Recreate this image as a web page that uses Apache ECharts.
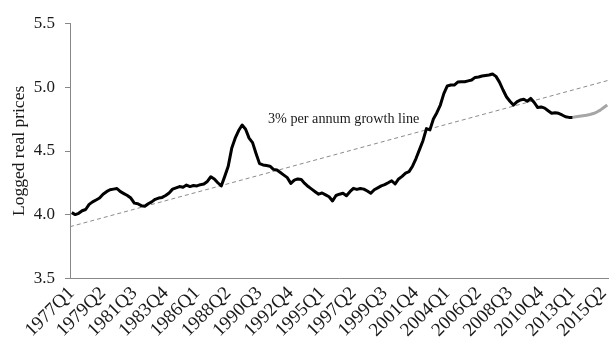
<!DOCTYPE html>
<html>
<head>
<meta charset="utf-8">
<script src="https://cdn.jsdelivr.net/npm/echarts@6/dist/echarts.min.js"></script>
<style>
  html, body { margin: 0; padding: 0; background: #fff; }
  #chart { width: 609px; height: 338px; }
</style>
</head>
<body>
<div id="chart"></div>
<script>
// Quarterly categories, 1977Q1 .. 2015Q3
const startYear = 1977;
const quarterCount = 155;
const quarters = [];
for (let i = 0; i < quarterCount; i++) {
  quarters.push((startYear + Math.floor(i / 4)) + 'Q' + (i % 4 + 1));
}

// Logged real prices, observed (1977Q1 .. 2013Q1)
const observed = [
  4.015, 4.000, 4.010, 4.030, 4.040, 4.080, 4.100, 4.115, 4.130, 4.160,
  4.180, 4.195, 4.200, 4.205, 4.180, 4.165, 4.150, 4.130, 4.090, 4.085,
  4.070, 4.065, 4.085, 4.100, 4.120, 4.130, 4.135, 4.150, 4.170, 4.200,
  4.210, 4.220, 4.215, 4.232, 4.220, 4.228, 4.225, 4.235, 4.240, 4.260,
  4.297, 4.280, 4.250, 4.225, 4.300, 4.380, 4.520, 4.600, 4.660, 4.703,
  4.670, 4.600, 4.565, 4.480, 4.400, 4.390, 4.385, 4.380, 4.355, 4.350,
  4.330, 4.310, 4.290, 4.245, 4.270, 4.280, 4.275, 4.245, 4.220, 4.200,
  4.180, 4.160, 4.170, 4.155, 4.140, 4.107, 4.150, 4.160, 4.167, 4.148,
  4.180, 4.206, 4.198, 4.205, 4.200, 4.185, 4.167, 4.195, 4.210, 4.225,
  4.235, 4.250, 4.266, 4.240, 4.280, 4.300, 4.325, 4.337, 4.380, 4.440,
  4.510, 4.580, 4.675, 4.665, 4.750, 4.800, 4.860, 4.950, 5.010, 5.017,
  5.017, 5.040, 5.043, 5.043, 5.050, 5.057, 5.077, 5.080, 5.088, 5.092,
  5.096, 5.104, 5.085, 5.040, 4.980, 4.925, 4.890, 4.860, 4.885, 4.900,
  4.905, 4.890, 4.912, 4.880, 4.840, 4.845, 4.836, 4.815, 4.795, 4.800,
  4.795, 4.782, 4.768, 4.763, 4.763
];

// Projected path (2013Q1 .. 2015Q3)
const projected = [
  4.763, 4.768, 4.772, 4.776, 4.780, 4.786, 4.793, 4.805, 4.820, 4.840, 4.860
];

// 3% per annum growth line: level at the left and right ends of the axis
const trendEnds = [3.905, 5.055];

const yTicks = { min: 3.5, max: 5.5, step: 0.5 };

const observedSeries = observed.concat(new Array(quarterCount - observed.length).fill(null));
const projStart = observed.length - 1;
const projectedSeries = new Array(projStart).fill(null).concat(projected);

const serif = '"Liberation Serif", "Times New Roman", serif';

const chart = echarts.init(document.getElementById('chart'), null, { renderer: 'canvas' });
chart.setOption({
  animation: false,
  backgroundColor: '#ffffff',
  grid: {
    left: 70, right: 0, top: 23.5, bottom: 59.7,
    containLabel: false,
    outerBoundsMode: 'none'
  },
  xAxis: [
    {
      type: 'category',
      data: quarters,
      boundaryGap: true,
      axisLine: { lineStyle: { color: '#878787', width: 1 } },
      axisTick: { interval: 3, length: 6, lineStyle: { color: '#878787' } },
      axisLabel: {
        interval: 8,
        rotate: 45,
        margin: 12,
        fontFamily: serif,
        fontSize: 19,
        color: '#1a1a1a'
      },
      splitLine: { show: false }
    },
    {
      type: 'value',
      min: 0,
      max: quarterCount,
      show: false
    }
  ],
  yAxis: {
    type: 'value',
    min: yTicks.min,
    max: yTicks.max,
    interval: yTicks.step,
    name: 'Logged real prices',
    nameLocation: 'middle',
    nameRotate: 90,
    nameGap: 42,
    nameMoveOverlap: false,
    nameTextStyle: { fontFamily: serif, fontSize: 17.5, color: '#1a1a1a' },
    axisLine: { show: true, lineStyle: { color: '#878787', width: 1 } },
    axisTick: { show: true, length: 5, lineStyle: { color: '#878787' } },
    axisLabel: {
      margin: 15,
      fontFamily: serif,
      fontSize: 17,
      color: '#1a1a1a',
      formatter: v => v.toFixed(1)
    },
    splitLine: { show: false }
  },
  series: [
    {
      name: 'trend',
      type: 'line',
      xAxisIndex: 1,
      data: [[0, trendEnds[0]], [quarterCount, trendEnds[1]]],
      symbol: 'none',
      lineStyle: { color: '#8c8c8c', width: 1, type: [4, 3] },
      z: 1
    },
    {
      name: 'projected',
      type: 'line',
      data: projectedSeries,
      symbol: 'none',
      lineStyle: { color: '#a6a6a6', width: 3 },
      z: 2
    },
    {
      name: 'observed',
      type: 'line',
      data: observedSeries,
      symbol: 'none',
      lineStyle: { color: '#000000', width: 3, join: 'round' },
      z: 3
    }
  ],
  graphic: [
    {
      type: 'text',
      left: 268,
      top: 112,
      style: {
        text: '3% per annum growth line',
        fontFamily: serif,
        fontSize: 14.2,
        fill: '#1a1a1a'
      }
    }
  ]
});
</script>
</body>
</html>
